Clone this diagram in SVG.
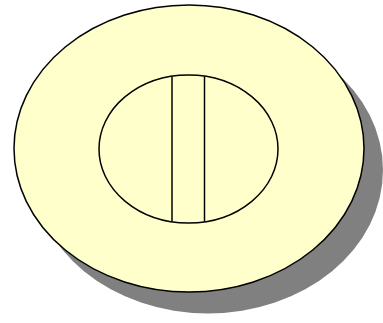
<svg xmlns="http://www.w3.org/2000/svg" width="383" height="323" viewBox="0 0 383 323">
<style>
.s{fill:#808080;stroke:none}
.f{fill:#FFFFCC;stroke:#000;stroke-width:1.5}
.l{stroke:#000;stroke-width:1.5;fill:none}
</style>
<rect width="383" height="323" fill="#fff"/>
<g id="shadow"><ellipse class="s" cx="208" cy="170" rx="175" ry="143.5"/></g>
<g id="outer"><ellipse class="f" cx="189" cy="148.5" rx="175" ry="143.5"/></g>
<g id="inner"><ellipse class="f" cx="188.5" cy="149" rx="89.5" ry="74"/></g>
<g id="connectors">
<line class="l" x1="172" y1="76.5" x2="172" y2="221.5"/>
<line class="l" x1="204.5" y1="76.5" x2="204.5" y2="221.5"/>
</g>
</svg>
